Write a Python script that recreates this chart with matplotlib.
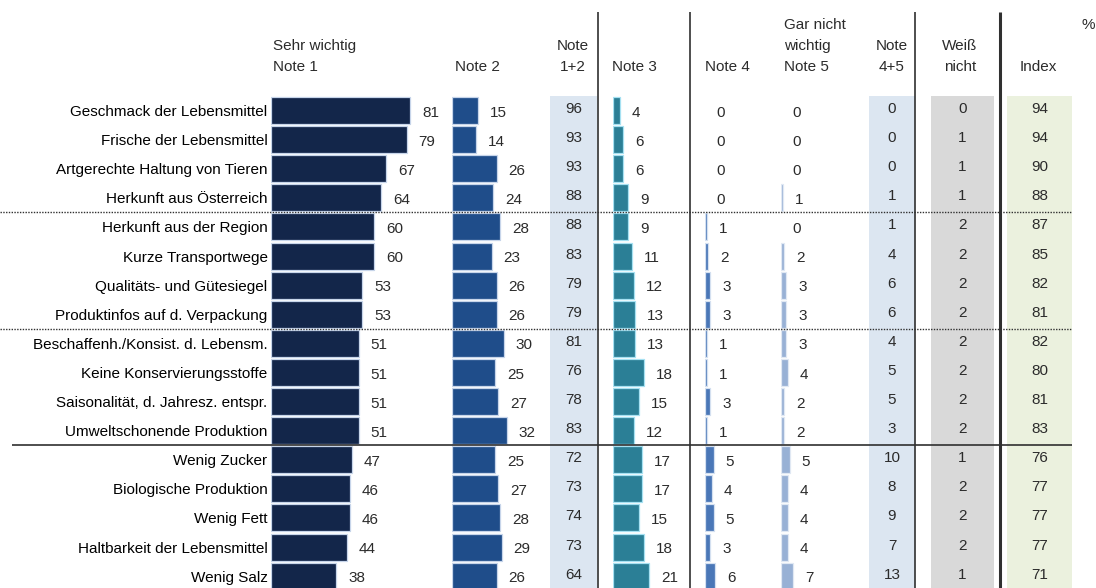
import numpy as np
import matplotlib
matplotlib.use('Agg')
import matplotlib.pyplot as plt

plt.rcParams['font.family'] = ['Liberation Sans', 'DejaVu Sans']
plt.rcParams['font.size'] = 11
plt.rcParams['text.color'] = '#2b2b2b'

# survey items, top to bottom
labels = ['Geschmack der Lebensmittel', 'Frische der Lebensmittel',
          'Artgerechte Haltung von Tieren', 'Herkunft aus Österreich',
          'Herkunft aus der Region', 'Kurze Transportwege',
          'Qualitäts- und Gütesiegel', 'Produktinfos auf d. Verpackung',
          'Beschaffenh./Konsist. d. Lebensm.', 'Keine Konservierungsstoffe',
          'Saisonalität, d. Jahresz. entspr.', 'Umweltschonende Produktion',
          'Wenig Zucker', 'Biologische Produktion', 'Wenig Fett',
          'Haltbarkeit der Lebensmittel', 'Wenig Salz']

note1 = [81, 79, 67, 64, 60, 60, 53, 53, 51, 51, 51, 51, 47, 46, 46, 44, 38]
note2 = [15, 14, 26, 24, 28, 23, 26, 26, 30, 25, 27, 32, 25, 27, 28, 29, 26]
note12 = [96, 93, 93, 88, 88, 83, 79, 79, 81, 76, 78, 83, 72, 73, 74, 73, 64]
note3 = [4, 6, 6, 9, 9, 11, 12, 13, 13, 18, 15, 12, 17, 17, 15, 18, 21]
note4 = [0, 0, 0, 0, 1, 2, 3, 3, 1, 1, 3, 1, 5, 4, 5, 3, 6]
note5 = [0, 0, 0, 1, 0, 2, 3, 3, 3, 4, 2, 2, 5, 4, 4, 4, 7]
note45 = [0, 0, 0, 1, 1, 4, 6, 6, 4, 5, 5, 3, 10, 8, 9, 7, 13]
weiss_nicht = [0, 1, 1, 1, 2, 2, 2, 2, 2, 2, 2, 2, 1, 2, 2, 2, 1]
index = [94, 94, 90, 88, 87, 85, 82, 81, 82, 80, 81, 83, 76, 77, 77, 77, 71]

# group breaks (after row n) and their line style
group_breaks = [4, 8, 12]
break_styles = ['dotted', 'dotted', 'solid']

# layout in pixels
W, H = 1096, 588
TOP = 96.0
ROW_H = 29.1
PX_PER_UNIT = 1.72
n = len(labels)
rows = np.arange(n)

fig = plt.figure(figsize=(W / 100, H / 100), dpi=100)


def add_col(left, width):
    bottom_px = TOP + ROW_H * n
    ax = fig.add_axes([left / W, 1 - bottom_px / H, width / W, ROW_H * n / H])
    ax.set_ylim(n - 0.5, -0.5)
    for s in ax.spines.values():
        s.set_visible(False)
    ax.set_xticks([])
    ax.set_yticks([])
    ax.patch.set_alpha(0)
    return ax


def bar_col(vals, left, width, color, edge):
    ax = add_col(left, width)
    lw = [0.9 if v else 0 for v in vals]
    ax.barh(rows, vals, height=0.93, color=color, edgecolor=edge, linewidth=lw)
    ax.set_xlim(0, width / PX_PER_UNIT)
    for i, v in enumerate(vals):
        ax.annotate(str(v), (v, i), xytext=(8.5, -1.5), textcoords='offset points',
                    ha='left', va='center')
    return ax


def table_col(vals, left, width, shade):
    ax = add_col(left, width)
    ax.patch.set_alpha(1)
    ax.set_facecolor(shade)
    ax.set_xlim(0, 1)
    for i, v in enumerate(vals):
        ax.text(0.5, i - 0.05, str(v), ha='center', va='center')
    return ax


ax1 = bar_col(note1, 271, 170, '#13264a', '#c7d5ea')
ax1.set_yticks(rows)
ax1.set_yticklabels(labels)
ax1.tick_params(axis='y', length=0, pad=2.5)

bar_col(note2, 452, 98, '#1f4d8a', '#c7d5ea')
table_col(note12, 550, 47, '#dce6f1')
bar_col(note3, 613, 75, '#2b7f96', '#a6e1f2')
bar_col(note4, 705, 74, '#4a77b7', '#d4e0f0')
bar_col(note5, 781, 85, '#98b1d5', '#e0e8f3')
table_col(note45, 869, 46, '#dce6f1')
table_col(weiss_nicht, 931, 63, '#d9d9d9')
table_col(index, 1007, 65, '#ebf1de')

# overlay for headers and rule lines
ov = fig.add_axes([0, 0, 1, 1])
ov.set_xlim(0, W)
ov.set_ylim(H, 0)
ov.axis('off')

line_c = '#303030'
ov.vlines([597.5, 690, 915], 12, H, color=line_c, lw=1.2)
ov.vlines(1000, 12, H, color=line_c, lw=2.2)

for b, style in zip(group_breaks, break_styles):
    y = TOP + b * ROW_H
    if style == 'solid':
        ov.hlines(y, 12, 1072, color=line_c, lw=1.2)
    else:
        ov.hlines(y, 0, 1072, color=line_c, lw=1.0, linestyles=(0, (1, 1)))

y1, y2, y3 = 25, 46, 67
ov.text(273, y2, 'Sehr wichtig', ha='left', va='center')
ov.text(273, y3, 'Note 1', ha='left', va='center')
ov.text(455, y3, 'Note 2', ha='left', va='center')
ov.text(573, y2, 'Note', ha='center', va='center')
ov.text(573, y3, '1+2', ha='center', va='center')
ov.text(612, y3, 'Note 3', ha='left', va='center')
ov.text(705, y3, 'Note 4', ha='left', va='center')
ov.text(784, y1, 'Gar nicht', ha='left', va='center')
ov.text(784, y2, 'wichtig', ha='left', va='center')
ov.text(784, y3, 'Note 5', ha='left', va='center')
ov.text(892, y2, 'Note', ha='center', va='center')
ov.text(892, y3, '4+5', ha='center', va='center')
ov.text(960, y2, 'Weiß', ha='center', va='center')
ov.text(960, y3, 'nicht', ha='center', va='center')
ov.text(1038, y3, 'Index', ha='center', va='center')
ov.text(1088, y1, '%', ha='center', va='center')

fig.savefig('out.png', dpi=100)
